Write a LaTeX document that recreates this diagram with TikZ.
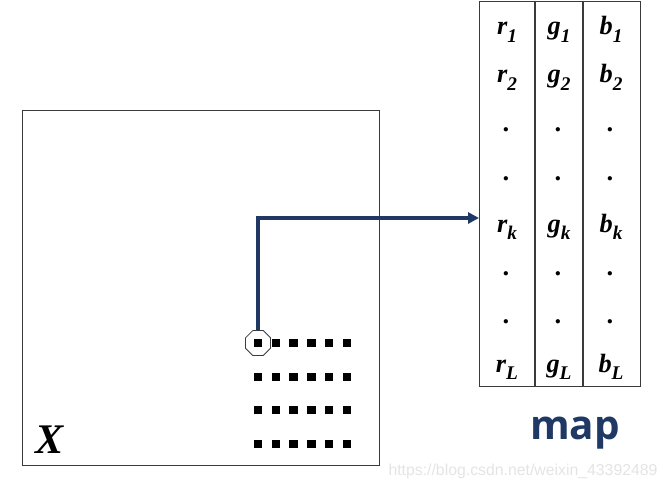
\documentclass[tikz,border=0pt]{standalone}
\usepackage{fontspec}
\setmainfont{Liberation Serif}
\newfontfamily\mapfont{Open Sans}
\newfontfamily\wmfont{Liberation Sans}
\usetikzlibrary{arrows.meta, positioning, shapes.geometric}
\definecolor{cInk}{HTML}{3A3A3A}
\definecolor{cNavy}{HTML}{1F3864}
\definecolor{cWm}{HTML}{E4E4E4}
\newcommand{\ent}[2]{#1\raisebox{-4pt}{\fontsize{11}{11}\selectfont #2}}
\tikzset{
  frame/.style={rectangle, draw=cInk, line width=0.8pt, inner sep=0pt},
  entry/.style={anchor=base, inner sep=0pt, font=\fontsize{15}{15}\selectfont\bfseries\itshape},
  pix/.style={rectangle, fill=black, minimum size=0.17cm, inner sep=0pt},
  probe/.style={regular polygon, regular polygon sides=8, draw=cInk, line width=0.5pt,
                minimum size=0.54cm, inner sep=0pt},
  link/.style={-{Triangle[length=2.2mm, width=2.2mm]}, line width=2pt, draw=cNavy},
}
\begin{document}
\begin{tikzpicture}[x=0.02cm, y=0.02cm]
  \useasboundingbox (0,0) rectangle (669,491);

  % ---- image X with its pixel grid
  \node[frame, minimum width=7.14cm, minimum height=7.1cm, anchor=south west] (img) at (22,25) {};
  \node[anchor=base, inner sep=0pt, font=\fontsize{24}{24}\selectfont\bfseries\itshape] (xlab) at (50,38) {X};
  \foreach \r/\y in {0/148, 1/114, 2/81, 3/47}
    \foreach \c in {0,...,5}
      \node[pix] (p\r\c) at ({258+17.8*\c},\y) {};
  \node[probe] (oct) at (p00) {};

  % ---- colour map table
  \node[frame, minimum width=3.22cm, minimum height=7.7cm, anchor=south west] (tbl) at (479,104) {};
  \draw[cInk, line width=0.8pt] (535,104) -- (535,489) (583,104) -- (583,489);
  \foreach \i/\s/\y in {1/1/456, 2/2/408, k/k/259, L/L/119} {
    \node[entry] (r\i) at (507,\y) {\ent{r}{\s}};
    \node[entry] (g\i) at (559,\y) {\ent{g}{\s}};
    \node[entry] (b\i) at (611,\y) {\ent{b}{\s}};
  }
  \foreach \y in {359, 311, 216, 168}
    \foreach \x in {507, 559, 611}
      \node[entry] at (\x,\y) {.};
  \node[anchor=base, inner sep=0pt, text=cNavy, font=\mapfont\fontsize{23}{23}\selectfont\bfseries] (map) at (575,52) {map};

  % ---- lookup arrow
  \coordinate (hit) at (tbl.west |- 0,273);
  \draw[link] (oct.north) |- (hit);

  \node[anchor=base, inner sep=0pt, text=cWm, font=\wmfont\fontsize{9}{9}\selectfont] (wm) at (523,16) {https://blog.csdn.net/weixin\_43392489};
\end{tikzpicture}
\end{document}
